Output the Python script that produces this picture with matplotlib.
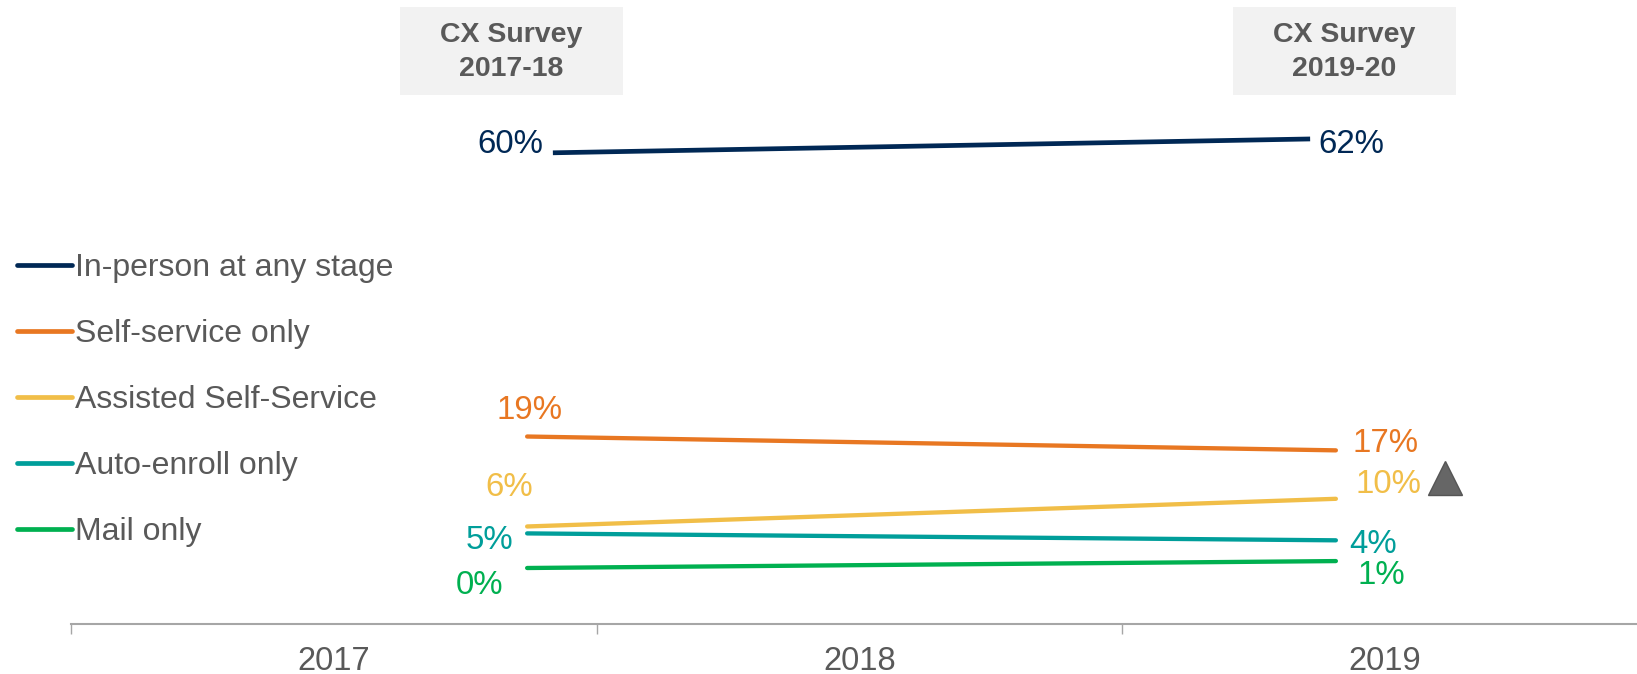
import matplotlib
matplotlib.use("Agg")
import matplotlib.pyplot as plt
from matplotlib.patches import Rectangle

plt.rcParams['font.family'] = ['Liberation Sans', 'DejaVu Sans']

# ---------------- DATA ---------------- #
years = ["2017", "2018", "2019"]
surveys = ["CX Survey\n2017-18", "CX Survey\n2019-20"]
series = ["In-person at any stage", "Self-service only", "Assisted Self-Service",
          "Auto-enroll only", "Mail only"]
start_vals = [60, 19, 6, 5, 0]
end_vals = [62, 17, 10, 4, 1]
colors = ["#002855", "#E87722", "#F1BE48", "#009E9A", "#00B050"]

TEXT_GRAY = "#595959"
W, H = 1637, 674


def px_to_fig(x, y):
    """Convert pixel coords (from top-left) to figure fraction."""
    return x / W, 1 - y / H


fig = plt.figure(figsize=(W / 100, H / 100), dpi=100)
ax = fig.add_axes([71 / W, (H - 624) / H, (W - 71) / W, 624 / H])
ax.set_xlim(-0.5, -0.5 + (W - 71) / 525.5)
ax.set_ylim(-56 / 6.92, 568 / 6.92)

# line x extents (navy line is slightly inset)
x0_std, x1_std = 0.368, 1.907
x0_nav, x1_nav = 0.417, 1.858

# label offsets in pixels (dx, dy up), alignment
start_lbl = [(-10, 8, "right"), (2, 26, "center"), (-18, 39, "center"),
             (-14, -7, "right"), (-24, -18, "right")]
end_lbl = [(8, -6, "left"), (17, 7, "left"), (20, 14, "left"),
           (13, -4, "left"), (22, -14, "left")]

for i, name in enumerate(series):
    if i == 0:
        xs = [x0_nav, x1_nav]
        cap = "butt"
        lw = 3.4
    else:
        xs = [x0_std, x1_std]
        cap = "round"
        lw = 3.1
    ys = [start_vals[i], end_vals[i]]
    ax.plot(xs, ys, color=colors[i], lw=lw, solid_capstyle=cap, label=name)
    for (x, y, v, (dx, dy, ha)) in [(xs[0], ys[0], start_vals[i], start_lbl[i]),
                                    (xs[1], ys[1], end_vals[i], end_lbl[i])]:
        ax.annotate(f"{v}%", (x, y), xytext=(dx * 0.72, dy * 0.72),
                    textcoords="offset points", ha=ha, va="center",
                    fontsize=23.8, color=colors[i])

# significance marker
ax.plot([2.115], [13.0], marker="^", ms=24, color="#666666",
        markeredgecolor="#555555", markeredgewidth=1, linestyle="")

# axes styling
for s in ["top", "right", "left"]:
    ax.spines[s].set_visible(False)
ax.spines["bottom"].set_color("#A6A6A6")
ax.spines["bottom"].set_linewidth(1.5)
ax.set_yticks([])
ax.set_xticks(range(len(years)))
ax.set_xticklabels(years, fontsize=23.5, color=TEXT_GRAY)
ax.tick_params(axis="x", which="major", length=0, pad=16)
ax.set_xticks([-0.5, 0.5, 1.5], minor=True)
ax.tick_params(axis="x", which="minor", length=7, width=1, color="#A6A6A6",
               direction="out")

# survey boxes
for bx, label in zip([400, 1233], surveys):
    x0, y0 = px_to_fig(bx, 95)
    fig.patches.append(Rectangle((x0, y0), 223 / W, 88 / H, transform=fig.transFigure,
                                 facecolor="#F2F2F2", edgecolor="none", zorder=0))
    cx, cy = px_to_fig(bx + 111.5, 52)
    fig.text(cx, cy, label, ha="center", va="center", fontsize=20.5,
             fontweight="bold", color=TEXT_GRAY, linespacing=1.36)

# legend
lx, ly = px_to_fig(17, 253)
leg = fig.legend(loc="upper left", bbox_to_anchor=(lx, ly), frameon=False,
                 fontsize=23, handlelength=1.72, handletextpad=0.1,
                 labelspacing=1.125, borderpad=0, borderaxespad=0)
for t in leg.get_texts():
    t.set_color(TEXT_GRAY)
for h in leg.legend_handles:
    h.set_solid_capstyle("round")
    h.set_linewidth(3.4)

fig.savefig("out.png", dpi=100)
